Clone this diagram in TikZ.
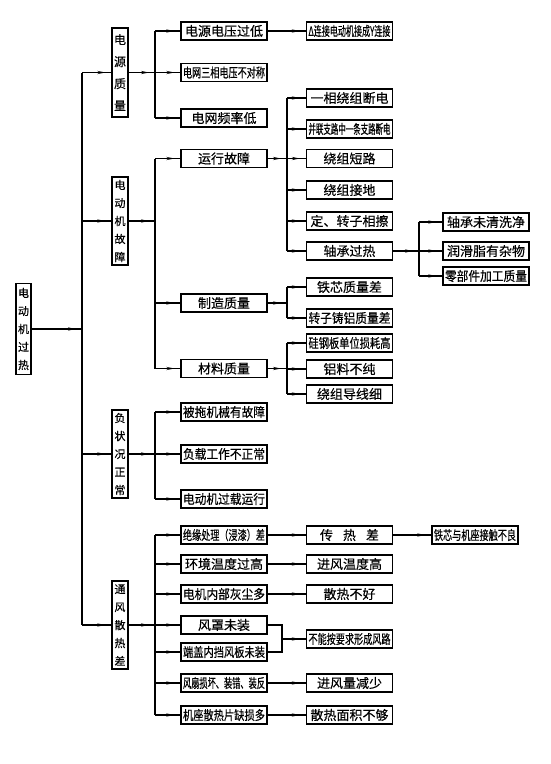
\documentclass[tikz,border=0pt]{standalone}
\usepackage{fontspec}
\usepackage{graphicx}
\newfontfamily\cjk[FakeBold=0.4]{Noto Sans CJK SC}
\usetikzlibrary{arrows.meta,decorations.markings}
\newsavebox\ctbox
\newcommand\ct[1]{\sbox\ctbox{#1}\ifdim\wd\ctbox>82pt\relax\resizebox{82pt}{\height}{\usebox\ctbox}\else\usebox\ctbox\fi}
\tikzset{
  box/.style={draw, line width=1.3pt, minimum width=86pt, minimum height=18pt, inner sep=0pt,
    font=\cjk\fontsize{13}{13}\selectfont},
  vbox4/.style={draw, line width=1.3pt, minimum width=16pt, minimum height=89pt, inner sep=1pt,
    align=center, font=\cjk\fontsize{12}{22}\selectfont},
  vbox5/.style={draw, line width=1.3pt, minimum width=16pt, minimum height=89pt, inner sep=1pt,
    align=center, font=\cjk\fontsize{11}{18}\selectfont},
  ln/.style={line width=1.1pt},
  arr/.style={ln, postaction={decorate}, decoration={markings,
    mark=at position -6pt with {\arrow{Stealth[length=8pt,width=3.2pt]}}}}
}
\begin{document}
\begin{tikzpicture}[x=1pt,y=-1pt]
\useasboundingbox (0,0) rectangle (551,764);
% root and level 1
\node[vbox5, minimum width=15pt, minimum height=91pt] (root) at (23.5,329) {电\\动\\机\\过\\热};
\node[vbox4] (g1) at (120,72.5) {电\\源\\质\\量};
\node[vbox5, minimum height=88pt] (g2) at (120,221) {电\\动\\机\\故\\障};
\node[vbox5, minimum height=88pt] (g3) at (120,454) {负\\状\\况\\正\\常};
\node[vbox5, minimum height=88pt] (g4) at (120,625) {通\\风\\散\\热\\差};
% bus coordinates
\coordinate (T) at (82,329);
\coordinate (Ttop) at (82,72.5);
\coordinate (Tbot) at (82,625);
\coordinate (B) at (155,0);
\coordinate (C) at (287,0);
\coordinate (D) at (419,0);
\coordinate (K) at (282,639);
% group 1
\node[box] (a1) at (224,31) {\ct{电源电压过低}};
\node[box] (a2) at (224,72.5) {\ct{电网三相电压不对称}};
\node[box] (a3) at (224,118) {\ct{电网频率低}};
\node[box] (a1x) at (349.5,31) {\ct{Δ连接电动机接成Y连接}};
% group 2
\node[box] (b1) at (224,158.5) {\ct{运行故障}};
\node[box] (b2) at (224,303) {\ct{制造质量}};
\node[box] (b3) at (224,368.5) {\ct{材料质量}};
\node[box] (c1) at (349.5,98) {\ct{一相绕组断电}};
\node[box] (c2) at (349.5,129) {\ct{并联支路中一条支路断电}};
\node[box] (c3) at (349.5,158.5) {\ct{绕组短路}};
\node[box] (c4) at (349.5,190) {\ct{绕组接地}};
\node[box] (c5) at (349.5,221) {\ct{定、转子相擦}};
\node[box] (c6) at (349.5,251) {\ct{轴承过热}};
\node[box] (d1) at (486,222) {\ct{轴承未清洗净}};
\node[box] (d2) at (486,251) {\ct{润滑脂有杂物}};
\node[box] (d3) at (486,276) {\ct{零部件加工质量}};
\node[box] (m1) at (349.5,287) {\ct{铁芯质量差}};
\node[box] (m2) at (349.5,318) {\ct{转子铸铝质量差}};
\node[box] (n1) at (349.5,343) {\ct{硅钢板单位损耗高}};
\node[box] (n2) at (349.5,369) {\ct{铝料不纯}};
\node[box] (n3) at (349.5,394) {\ct{绕组导线细}};
% group 3
\node[box] (p1) at (224,412) {\ct{被拖机械有故障}};
\node[box] (p2) at (224,454) {\ct{负载工作不正常}};
\node[box] (p3) at (224,499) {\ct{电动机过载运行}};
% group 4
\node[box] (e1) at (224,535) {\ct{绝缘处理（浸漆）差}};
\node[box] (e2) at (224,564) {\ct{环境温度过高}};
\node[box] (e3) at (224,594) {\ct{电机内部灰尘多}};
\node[box] (e4) at (224,625) {\ct{风罩未装}};
\node[box] (e5) at (224,652) {\ct{端盖内挡风板未装}};
\node[box] (e6) at (224,683) {\ct{风扇损坏、装错、装反}};
\node[box] (e7) at (224,715) {\ct{机座散热片缺损多}};
\node[box] (f1) at (349.5,535) {\ct{传\hspace{10pt}热\hspace{10pt}差}};
\node[box] (f1x) at (475,535) {\ct{铁芯与机座接触不良}};
\node[box] (f2) at (349.5,564) {\ct{进风温度高}};
\node[box] (f3) at (349.5,594) {\ct{散热不好}};
\node[box] (f4) at (349.5,639) {\ct{不能按要求形成风路}};
\node[box] (f6) at (349.5,683) {\ct{进风量减少}};
\node[box] (f7) at (349.5,715) {\ct{散热面积不够}};
% trunk
\draw[ln] (Ttop) -- (Tbot);
\draw[arr] (root) -- (T);
\foreach \g in {g1,g2,g3,g4} \draw[arr] (\g.west -| T) -- (\g.west);
% level 1 -> level 2
\foreach \g in {g1,g2,g3,g4} \draw[arr] (\g.east) -- (\g.east -| B);
\draw[ln] (a1.west -| B) -- (a3.west -| B);
\draw[ln] (b1.west -| B) -- (b3.west -| B);
\draw[ln] (p1.west -| B) -- (p3.west -| B);
\draw[ln] (e1.west -| B) -- (e7.west -| B);
\foreach \n in {a1,a2,a3,b1,b2,b3,p1,p2,p3,e1,e2,e3,e4,e5,e6,e7}
  \draw[arr] (\n.west -| B) -- (\n.west);
% group 1 level 3
\draw[arr] (a1) -- (a1x);
% running faults
\draw[arr] (b1.east) -- (b1.east -| C);
\draw[ln] (c1.west -| C) -- (c6.west -| C);
\foreach \n in {c1,c2,c3,c4,c5,c6} \draw[arr] (\n.west -| C) -- (\n.west);
\draw[arr] (c6.east) -- (c6.east -| D);
\draw[ln] (d1.west -| D) -- (d3.west -| D);
\foreach \n in {d1,d2,d3} \draw[arr] (\n.west -| D) -- (\n.west);
% manufacturing
\draw[arr] (b2.east) -- (b2.east -| C);
\draw[ln] (m1.west -| C) -- (m2.west -| C);
\foreach \n in {m1,m2} \draw[arr] (\n.west -| C) -- (\n.west);
% material
\draw[arr] (b3.east) -- (b3.east -| C);
\draw[ln] (n1.west -| C) -- (n3.west -| C);
\foreach \n in {n1,n2,n3} \draw[arr] (\n.west -| C) -- (\n.west);
% ventilation
\draw[arr] (e1) -- (f1);
\draw[arr] (f1) -- (f1x);
\draw[arr] (e2) -- (f2);
\draw[arr] (e3) -- (f3);
\draw[ln] (e4.east) -- (e4.east -| K) -- (e5.east -| K) -- (e5.east);
\draw[arr] (K) -- (f4.west);
\draw[arr] (e6) -- (f6);
\draw[arr] (e7) -- (f7);
\end{tikzpicture}
\end{document}
